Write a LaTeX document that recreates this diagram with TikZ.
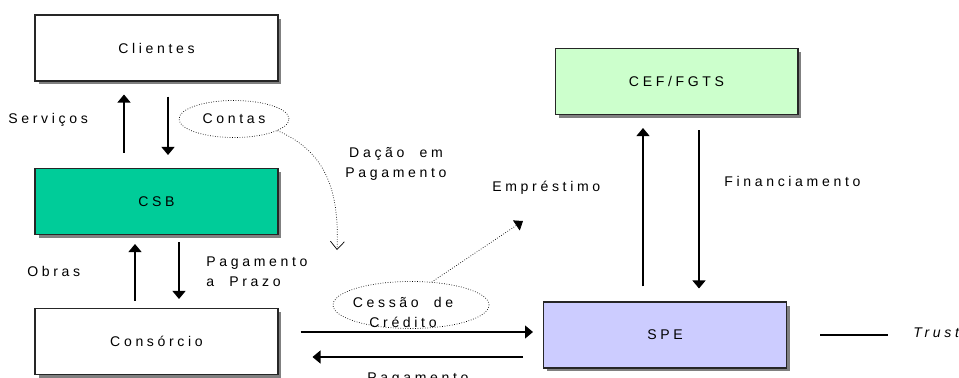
\documentclass[tikz,border=0pt]{standalone}
\usepackage{fontspec}
\setmainfont{Liberation Sans}[LetterSpace=26, WordSpace=2]
\usetikzlibrary{arrows.meta,shapes.geometric,shadows}

\definecolor{csbgreen}{RGB}{0,204,153}
\definecolor{cefgreen}{RGB}{204,255,204}
\definecolor{spelilac}{RGB}{204,204,255}
\newcommand\diagfont{\fontsize{8}{11.3}\selectfont}

\begin{document}
\begin{tikzpicture}[x=0.02cm, y=-0.02cm, font=\diagfont,
	box/.style={draw=black!85, fill=white, line width=0.6pt,
		minimum width=4.86cm, minimum height=1.32cm,
		general shadow={fill=black!50, shadow xshift=0.07cm, shadow yshift=-0.07cm}},
	flow/.style={line width=0.6pt, -{Triangle[width=0.26cm,length=0.16cm]}},
	loan/.style={densely dotted, line width=0.4pt},
	bubble/.style={ellipse, draw, loan, inner sep=0pt},
	tag/.style={inner sep=0pt}]
	\useasboundingbox (0,0) rectangle (959,378);
	\clip (0,0) rectangle (959,378);

	% the five parties
	\node[box] (clientes) at (156.5,48) {Clientes};
	\node[box, fill=csbgreen] (csb) at (156.5,201.5) {CSB};
	\node[box] (consorcio) at (156.5,341.5) {Consórcio};
	\node[box, fill=cefgreen] (cef) at (676.5,81.5) {CEF/FGTS};
	\node[box, fill=spelilac] (spe) at (665,335) {SPE};

	% vertical flows between the boxes
	\foreach \from/\to/\x in {csb.north/clientes.south/124, clientes.south/csb.north/168,
		spe.north/cef.south/643, cef.south/spe.north/699} {
		\draw[flow, shorten <=0.3cm, shorten >=0.26cm] (\from -| \x,0) -- (\to -| \x,0);
	}
	\foreach \from/\to/\x in {consorcio.north/csb.south/135, csb.south/consorcio.north/179} {
		\draw[flow, shorten <=0.14cm, shorten >=0.18cm] (\from -| \x,0) -- (\to -| \x,0);
	}

	% Consorcio <-> SPE
	\draw[flow, shorten <=0.44cm, shorten >=0.2cm] (consorcio.east |- 0,332) -- (spe.west |- 0,332);
	\draw[flow, shorten <=0.4cm, shorten >=0.68cm] (spe.west |- 0,357) -- (consorcio.east |- 0,357);

	% labels (base of a two-line node is its last line)
	\node[tag, anchor=base west] (servicos) at (8,124) {Serviços};
	\node[tag, anchor=base west] (obras) at (27,276) {Obras};
	\node[tag, anchor=base west, align=left] (prazo) at (206,286) {Pagamento\\a Prazo};
	\node[tag, anchor=base, align=center] (dacaotxt) at (396,177) {Dação em\\Pagamento};
	\node[tag, anchor=base west] (emprestimo) at (492,192) {Empréstimo};
	\node[tag, anchor=base west] (financiamento) at (724,187) {Financiamento};
	\node[tag, anchor=base west] (pagamento) at (367,382) {Pagamento};
	\node[tag, anchor=base west, font=\diagfont\itshape] (trust) at (913,337) {Trust};

	% dotted bubbles
	\node[bubble, minimum width=2.2cm, minimum height=0.74cm] (contas) at (234,119) {Contas};
	\node[bubble, minimum width=3.12cm, minimum height=0.94cm] (cessao) at (411,305) {};
	\node[tag, anchor=base, align=center] (cessaotxt) at (403,327) {Cessão de\\Crédito};

	\coordinate (dacao) at (337,250);
	\draw[loan, -{Straight Barb[width=0.28cm,length=0.16cm]}] (contas.-15) .. controls (322,150) and (340,185) .. (dacao);
	\coordinate (loanend) at (523,221);
	\draw[loan, -{Triangle[width=0.24cm,length=0.16cm]}] (cessao.48) -- (loanend);

	\draw[line width=0.6pt, shorten <=0.66cm, shorten >=0.5cm] (spe.east) -- (trust.west |- spe.east);
\end{tikzpicture}
\end{document}
